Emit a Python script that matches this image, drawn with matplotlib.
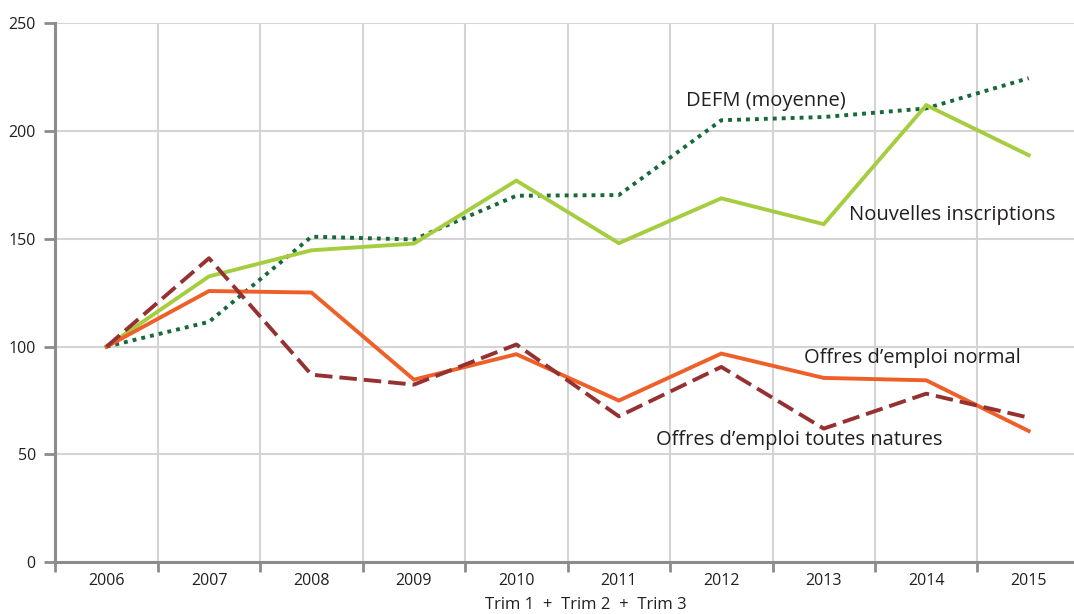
import numpy as np
import matplotlib
matplotlib.use("Agg")
from matplotlib import pyplot as plt

# données (base 100 en 2006)
annees = ["2006", "2007", "2008", "2009", "2010", "2011", "2012", "2013", "2014", "2015"]
defm = [100, 111.5, 151, 149.7, 170, 170.3, 205, 206.5, 210.5, 224.5]
nouvelles = [100, 132.6, 144.7, 147.8, 177, 148, 168.8, 156.8, 212, 188.8]
offres_normal = [100, 125.8, 125.1, 84.7, 96.5, 75, 96.8, 85.5, 84.4, 60.9]
offres_toutes = [100, 141, 87, 82.4, 101, 67.7, 90.6, 62, 78.2, 67.1]
y_ticks = [0, 50, 100, 150, 200, 250]

plt.rcParams['font.family'] = ['Open Sans', 'DejaVu Sans']

fig = plt.figure(figsize=(10.74, 6.14), dpi=100)
ax = fig.add_axes([0.0515, 0.0842, 0.954, 0.878])

x = np.arange(len(annees))

#les courbes
ax.plot(x, defm, color="#17683a", lw=2.8, linestyle=(0, (1, 1.3)), dash_capstyle="butt")
ax.plot(x, nouvelles, color="#a6cd3f", lw=2.8, solid_joinstyle="miter")
ax.plot(x, offres_normal, color="#ef5f28", lw=2.8, solid_joinstyle="miter")
ax.plot(x, offres_toutes, color="#953131", lw=2.8, linestyle=(0, (4.5, 1.8)), dash_capstyle="butt")

#étiquettes des séries
txt = dict(fontsize=14.5, color="#231f20", va="center", ha="left")
ax.text(5.66, 214, "DEFM (moyenne)", **txt)
ax.text(7.25, 161, "Nouvelles inscriptions", **txt)
ax.text(6.81, 94.7, "Offres d\u2019emploi normal", **txt)
ax.text(5.36, 56.7, "Offres d\u2019emploi toutes natures", **txt)

#axes
ax.set_xlim(-0.5, len(annees) - 0.5)
ax.set_ylim(0, 250)
ax.set_yticks(y_ticks)
ax.set_xticks(x)
ax.set_xticklabels(annees)
ax.set_xticks(np.arange(len(annees) + 1) - 0.5, minor=True)

ax.tick_params(axis="x", which="major", length=0, labelsize=11.5, pad=8, colors="#231f20")
ax.tick_params(axis="x", which="minor", length=7, width=2, color="#8c8c8c", direction="out")
ax.tick_params(axis="y", length=8, width=2, color="#8c8c8c", labelsize=11.5, pad=6, labelcolor="#231f20")

ax.grid(True, axis="x", which="minor", color="#d4d4d4", lw=1.5)
ax.grid(True, axis="y", which="major", color="#d4d4d4", lw=1.5)
ax.set_axisbelow(True)

for s in ["top", "right"]:
    ax.spines[s].set_visible(False)
for s in ["left", "bottom"]:
    ax.spines[s].set_color("#8c8c8c")
    ax.spines[s].set_linewidth(2.2)

fig.text(0.545, 0.002, "Trim 1  +  Trim 2  +  Trim 3", ha="center", va="bottom",
         fontsize=12, color="#231f20")

plt.savefig("out.png", dpi=100)
